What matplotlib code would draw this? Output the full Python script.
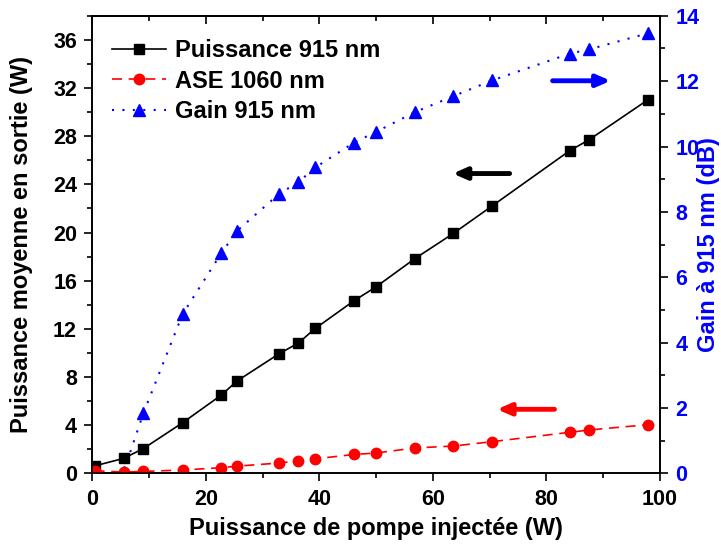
import matplotlib.pyplot as plt
from matplotlib.ticker import MultipleLocator

plt.rcParams['font.family'] = ['Liberation Sans', 'DejaVu Sans']
plt.rcParams['font.weight'] = 'bold'

# pump power injected (W)
pompe = [0.4, 5.5, 9, 15.9, 22.7, 25.5, 32.9, 36.3, 39.3, 46.1, 50, 56.8, 63.6, 70.4, 84.1, 87.5, 97.8]
# output power at 915 nm (W)
puissance_915 = [0.63, 1.25, 2.07, 4.21, 6.5, 7.68, 9.94, 10.83, 12.05, 14.34, 15.5, 17.83, 19.93, 22.2, 26.8, 27.7, 31.0]
# ASE at 1060 nm (W)
ase_1060 = [0.23, 0.12, 0.17, 0.29, 0.48, 0.61, 0.87, 1.05, 1.22, 1.58, 1.7, 2.12, 2.28, 2.64, 3.42, 3.61, 4.05]
# gain at 915 nm (dB)
pompe_gain = [5.5, 9, 15.9, 22.7, 25.5, 32.9, 36.3, 39.3, 46.1, 50, 56.8, 63.6, 70.4, 84.1, 87.5, 97.8]
gain_915 = [0.05, 1.84, 4.87, 6.73, 7.42, 8.55, 8.91, 9.36, 10.12, 10.45, 11.05, 11.54, 12.02, 12.84, 12.97, 13.46]

fig, ax = plt.subplots(figsize=(7.21, 5.44), dpi=100)
fig.subplots_adjust(left=0.128, right=0.9154, bottom=0.1296, top=0.9711)
ax2 = ax.twinx()
ax.set_zorder(ax2.get_zorder() + 1)
ax.patch.set_visible(False)

l1, = ax.plot(pompe, puissance_915, color='black', lw=1.2, marker='s', ms=6.5, label='Puissance 915 nm')
l2, = ax.plot(pompe, ase_1060, color='red', lw=1.2, ls=(0, (6, 4)), marker='o', ms=7.5, label='ASE 1060 nm')
l3, = ax2.plot(pompe_gain, gain_915, color='blue', lw=1.5, ls=(0, (1, 4)), marker='^', ms=8, label='Gain 915 nm')

ax.set_xlim(0, 100)
ax.set_ylim(0, 38)
ax2.set_ylim(0, 14)

ax.xaxis.set_major_locator(MultipleLocator(20))
ax.xaxis.set_minor_locator(MultipleLocator(10))
ax.yaxis.set_major_locator(MultipleLocator(4))
ax.yaxis.set_minor_locator(MultipleLocator(2))
ax2.yaxis.set_major_locator(MultipleLocator(2))
ax2.yaxis.set_minor_locator(MultipleLocator(1))

ax.tick_params(axis='both', which='major', length=6, width=1.2, labelsize=15.5, pad=5, direction='out')
ax.tick_params(axis='both', which='minor', length=3.5, width=1.2, direction='out')
ax2.tick_params(axis='y', which='major', length=6, width=1.2, labelsize=15.5, pad=5,
                labelcolor='blue', color='black', direction='out')
ax2.tick_params(axis='y', which='minor', length=3.5, width=1.2, color='black', direction='out')

top = ax.secondary_xaxis('top')
top.xaxis.set_major_locator(MultipleLocator(20))
top.xaxis.set_minor_locator(MultipleLocator(10))
top.tick_params(which='major', length=6, width=1.2, direction='in', labeltop=False)
top.tick_params(which='minor', length=3.5, width=1.2, direction='in')

for s in ax.spines.values():
    s.set_linewidth(1.2)
for s in ax2.spines.values():
    s.set_linewidth(1.2)
top.spines['top'].set_linewidth(1.2)

ax.set_xlabel('Puissance de pompe injectée (W)', fontsize=17, fontweight='bold')
ax.set_ylabel('Puissance moyenne en sortie (W)', fontsize=17, fontweight='bold')
ax2.set_ylabel('Gain à 915 nm (dB)', fontsize=17, fontweight='bold', color='blue')
ax.xaxis.set_label_coords(0.5, -0.095)
ax.yaxis.set_label_coords(-0.105, 0.5)
ax2.yaxis.set_label_coords(1.066, 0.5)

ax.legend(handles=[l1, l2, l3], loc='upper left', bbox_to_anchor=(0.01, 0.98), frameon=False,
          handlelength=2.3, handletextpad=0.35, borderaxespad=0.2, labelspacing=0.32,
          prop={'weight': 'bold', 'size': 17})

# direction arrows
ax.annotate('', xy=(63, 24.9), xytext=(74, 24.9),
            arrowprops=dict(arrowstyle='-|>,head_length=0.8,head_width=0.35', color='black', lw=3.5))
ax.annotate('', xy=(70.8, 5.33), xytext=(81.9, 5.33),
            arrowprops=dict(arrowstyle='-|>,head_length=0.8,head_width=0.35', color='red', lw=3.5))
ax.annotate('', xy=(91.8, 32.6), xytext=(80.6, 32.6),
            arrowprops=dict(arrowstyle='-|>,head_length=0.8,head_width=0.35', color='blue', lw=3.5))

fig.savefig('out.png', dpi=100)
